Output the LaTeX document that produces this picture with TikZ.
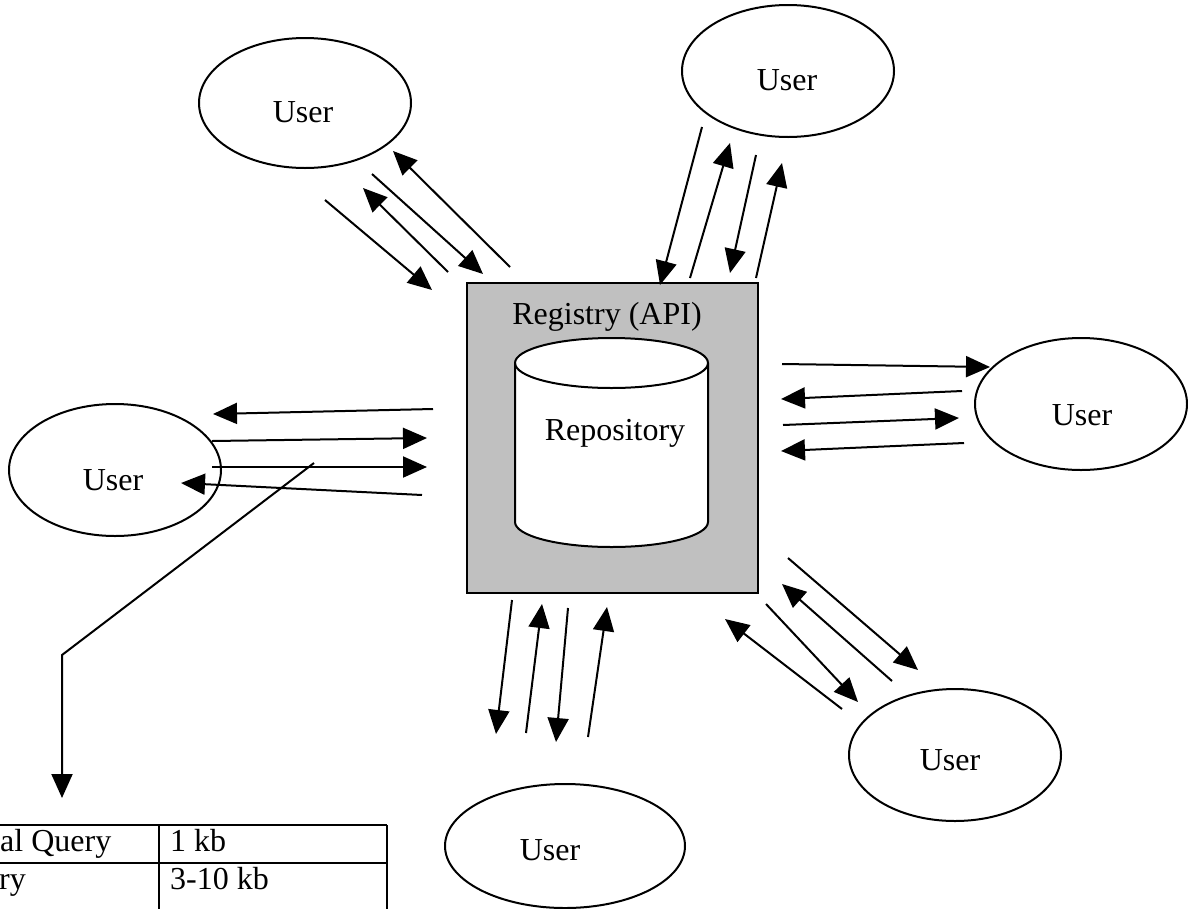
\documentclass[tikz,border=0pt]{standalone}
\usepackage{fontspec}
\setmainfont{Liberation Serif}
\usetikzlibrary{shapes.geometric,arrows.meta}
\definecolor{regfill}{HTML}{C0C0C0}
\tikzset{
  user/.style={draw, ellipse, line width=2pt, fill=white, inner sep=0pt},
  lbl/.style={inner sep=0pt, font=\fontsize{32}{38}\selectfont},
  flow/.style={line width=2pt, -{Triangle[length=24pt,width=21pt]}},
  grid/.style={line width=2pt},
}
\begin{document}
\begin{tikzpicture}[x={(1pt,0)}, y={(0,-1pt)}]
\clip (0,0) rectangle (1188,908);
\fill[white] (0,0) rectangle (1188,908);

% Registry box
\node[draw, fill=regfill, line width=2.5pt, minimum width=291pt, minimum height=310pt, inner sep=0pt] (reg) at (612.5,438) {};
\node[lbl] (regl) at (607,317) {Registry (API)};

% Repository cylinder
\coordinate (cyltop) at (611.5,363);
\coordinate (cylbot) at (611.5,522);
\filldraw[fill=white, line width=2pt]
  (515,363) -- (515,522) arc[start angle=180, end angle=360, x radius=96.5pt, y radius=25pt]
  -- (708,363) arc[start angle=0, end angle=180, x radius=96.5pt, y radius=25pt] -- cycle;
\draw[line width=2pt] (515,363) arc[start angle=180, end angle=360, x radius=96.5pt, y radius=25pt];
\node[lbl] (repo) at (615,433) {Repository};

% Users
\node[user, minimum width=212pt, minimum height=130pt] (u1) at (305,103) {};
\node[lbl] at (303,112) {User};
\node[user, minimum width=212pt, minimum height=132pt] (u2) at (788,71) {};
\node[lbl] at (787,80) {User};
\node[user, minimum width=212pt, minimum height=132pt] (u3) at (1081,404) {};
\node[lbl] at (1082,415) {User};
\node[user, minimum width=212pt, minimum height=132pt] (u4) at (115,470) {};
\node[lbl] at (113,480) {User};
\node[user, minimum width=212pt, minimum height=132pt] (u5) at (955,755) {};
\node[lbl] at (950,760) {User};
\node[user, minimum width=240pt, minimum height=124pt] (u6) at (565,846) {};
\node[lbl] at (550,850) {User};

% Request / response arrows
\foreach \i/\ax/\ay/\bx/\by in {
  1/325/200/432/290, 2/448/272/363/188, 3/372/174/483/274, 4/510/267/393/151,
  5/702/127/660/285, 6/690/278/730/143, 7/756/155/730/273, 8/756/278/782/163,
  9/782/364/990/367, 10/962/391/781/399, 11/783/425/959/418, 12/964/443/781/451,
  13/433/409/213/414, 14/212/441/427/438, 15/212/467/427/467, 16/422/495/181/483,
  17/512/600/496/734, 18/526/733/542/604, 19/568/608/556/742, 20/588/737/607/607,
  21/788/558/918/670, 22/892/681/782/584, 23/766/604/858/702, 24/842/709/725/619}{
  \coordinate (s\i) at (\ax,\ay);
  \coordinate (e\i) at (\bx,\by);
  \draw[flow] (s\i) -- (e\i);
}

% Leader to the size table
\coordinate (lstart) at (314,463);
\coordinate (lbend) at (62,655);
\coordinate (ltip) at (62,798);
\draw[flow] (lstart) -- (lbend) -- (ltip);

% Size table
\draw[grid] (-10,825) -- (387,825);
\draw[grid] (-10,863) -- (387,863);
\draw[grid] (159,825) -- (159,920);
\draw[grid] (387,825) -- (387,920);
\node[lbl, anchor=base west] (t1) at (0,851) {al Query};
\node[lbl, anchor=base west] (t2) at (170,851) {1 kb};
\node[lbl, anchor=base west] (t3) at (-1,889) {ry};
\node[lbl, anchor=base west] (t4) at (170,889) {3-10 kb};
\end{tikzpicture}
\end{document}
